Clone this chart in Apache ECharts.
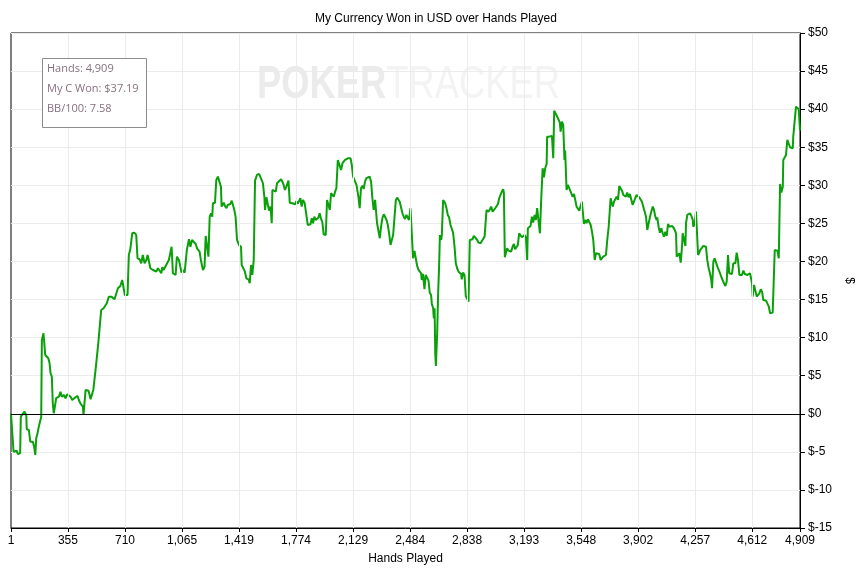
<!DOCTYPE html>
<html>
<head>
<meta charset="utf-8">
<script src="https://cdn.jsdelivr.net/npm/echarts@6/dist/echarts.min.js"></script>
<style>
html,body{margin:0;padding:0;background:#fff;}
#c{width:863px;height:568px;}
</style>
</head>
<body>
<div id="c"></div>
<script>
var titleText = 'My Currency Won in USD over Hands Played';
var xAxisName = 'Hands Played';
var yAxisName = '$';
var xTickHands = [1,355,710,1065,1419,1774,2129,2484,2838,3193,3548,3902,4257,4612,4909];
var infoLines = ['Hands: 4,909','My C Won: $37.19','BB/100: 7.58'];

var hands = [1,12,17,23,29,37,43,50,58,62,74,85,91,96,99,112,121,129,137,145,152,158,166,174,183,189,193,199,203,210,214,224,233,241,247,255,261,267,274,282,292,299,309,317,323,330,340,351,361,371,382,390,402,415,423,432,440,448,452,459,465,473,483,490,496,506,513,523,527,538,544,556,562,577,589,597,610,625,635,645,656,666,681,693,701,709,726,734,743,755,768,780,788,801,811,821,832,843,851,859,868,
884,894,905,915,925,936,942,950,963,971,983,992,1000,1008,1017,1025,1033,1046,1054,1062,1070,1081,1087,1095,1108,1117,1127,1139,1150,1158,1166,1174,1182,1195,1205,1212,1220,1229,1237,1245,1253,1257,1270,1278,1288,1299,1307,1311,1324,1332,1341,1349,1357,1366,1374,1382,1390,1398,1407,1419,1432,1436,1448,1456,1465,1478,1486,1494,1502,1511,1519,1531,1544,1552,1560,1568,1577,1581,1590,1598,1606,1615,1623,1627,1639,1648,1656,1668,1681,1689,1697,1705,1714,1727,1735,
1739,1751,1760,1768,1776,1785,1793,1801,1809,1817,1828,1839,1847,1855,1864,1872,1880,1888,1896,1905,1913,1921,1930,1938,1946,1959,1967,1976,1984,1992,2000,2009,2017,2025,2034,2046,2054,2063,2071,2079,2088,2096,2104,2113,2121,2129,2141,2150,2162,2170,2178,2187,2195,2203,2212,2220,2232,2241,2249,2257,2266,2270,2278,2287,2295,2303,2312,2320,2328,2337,2345,2353,2362,2370,2378,2387,2395,2403,2411,2419,2428,2436,2444,2452,2461,2469,2477,2486,2494,2502,2511,2519,2527,2536,2544,2552,
2556,2564,2573,2581,2589,2598,2606,2614,2619,2627,2631,2636,2640,2644,2652,2658,2664,2669,2677,2681,2689,2694,2702,2710,2718,2726,2735,2743,2751,2760,2768,2776,2785,2793,2801,2805,2813,2822,2830,2838,2847,2855,2863,2872,2880,2888,2901,2909,2922,2934,2947,2955,2959,2972,2980,2988,2997,3005,3013,3021,3030,3038,3046,3054,3063,3067,3073,3079,3087,3096,3104,3112,3121,3129,3137,3146,3154,3162,3171,3179,3187,3196,3204,3212,3216,3224,3233,3241,3249,3258,3266,3274,3283,3291,3299,3308,3316,3324,3333,3336,3349,3357,3366,3374,3380,3391,3399,3407,3415,3420,3428,3436,3444,3448,3457,3465,3473,
3486,3494,3503,3511,3519,3527,3536,3544,3552,3560,3565,3573,3581,3590,3598,3607,3615,3623,3632,3640,3648,3660,3669,3677,3685,3694,3702,3710,3719,3727,3731,3739,3744,3752,3760,3768,3777,3785,3793,3802,3810,3818,3826,3834,3843,3851,3859,3868,3876,3884,3893,3901,3909,3918,3926,3934,3943,3951,3959,3968,3976,3984,3993,4001,4009,4017,4021,4030,4038,4046,4055,4063,4071,4080,4088,4096,
4113,4125,4133,4138,4142,4150,4158,4167,4175,4179,4188,4196,4200,4208,4217,4225,4233,4242,4245,4254,4262,4266,4275,4283,4291,4299,4308,4316,4324,4332,4341,4349,4357,4362,4370,4378,4387,4395,4403,4412,4420,4428,4436,4445,4453,4461,4469,4478,4486,4494,4507,4515,4523,4532,4540,4548,4557,4565,4573,4582,4590,4598,4606,4611,4615,4623,4631,4640,4648,4656,4665,4673,4681,4690,4698,4706,4715,4723,4731,4739,4748,4752,4760,4768,4777,4785,4793,4802,4805,4814,4822,4830,4839,4847,4855,4864,4867,4876,4884,4892,4901,4909];

var won = [0,-0.16,-4.98,-4.75,-4.98,-4.85,-5.28,-5.45,-5.19,-0.38,-0.16,0.28,0.41,-0.16,-2.04,-2.13,-3.66,-3.87,-3.66,-4.32,-5.41,-3.22,-2.56,-1.69,-1.83,-0.38,9.69,9.91,10.57,10.65,7.72,7.59,7.29,6.63,5.32,4.87,1.38,0.07,0.93,2.04,1.81,2.25,2.90,2.25,2.04,2.47,2.04,2.56,2.34,2.25,1.81,1.81,2.17,2.34,1.81,1.38,1.16,0.93,-0.16,0.07,3.13,3.35,3.03,2.47,1.90,1.81,3.13,3.03,5.75,5.98,9.26,9.47,13.63,13.85,13.72,14.51,15.38,15.38,15.17,15.04,14.94,16.48,16.78,17.57,17.44,15.60,15.60,20.85,21.60,23.70,23.78,23.48,20.42,20.29,19.76,20.85,19.76,20.20,20.85,20.72,19.11,
18.88,19.11,18.66,19.11,18.88,18.45,19.24,18.88,19.41,19.67,20.20,20.42,21.94,18.45,18.66,18.23,20.63,20.20,19.32,18.53,18.88,18.53,18.53,21.51,22.92,21.94,22.82,22.92,22.30,21.73,21.86,21.29,20.20,18.88,19.32,23.35,23.35,20.63,25.88,26.33,25.88,27.64,27.72,30.70,31.14,31.06,29.82,27.20,27.72,27.29,26.99,27.42,27.20,27.55,27.98,27.42,26.76,25.88,22.82,22.17,21.94,19.54,19.32,18.66,17.79,17.66,17.14,19.54,18.23,20.20,30.61,31.36,31.49,31.23,30.70,30.27,28.51,26.76,28.43,28.17,26.67,27.20,25.02,29.39,29.48,29.17,30.27,30.48,30.79,30.48,30.05,29.39,29.82,30.61,27.72,
27.85,27.64,27.85,27.51,27.94,27.59,27.85,28.30,27.20,28.08,27.64,27.85,24.79,25.02,24.89,25.67,25.02,25.88,25.45,25.23,25.75,26.33,25.58,25.15,23.57,23.48,28.08,27.42,26.76,28.96,29.17,28.51,29.17,29.61,33.33,33.11,32.02,32.90,33.11,33.33,33.20,33.55,33.76,33.55,32.67,31.14,30.93,30.05,28.51,26.99,29.61,29.95,29.52,30.48,30.93,31.14,31.14,30.48,28.30,26.76,28.08,28.30,25.02,24.79,23.05,24.57,25.75,26.20,26.11,25.45,24.79,23.70,22.17,22.82,23.48,23.39,28.08,28.38,28.21,27.85,27.77,26.33,25.88,25.58,26.11,26.33,25.45,26.99,26.76,20.42,21.38,21.29,19.45,18.88,18.75,18.45,
17.57,18.36,16.35,18.23,18.00,17.48,15.90,15.60,14.42,13.85,12.54,13.85,7.94,6.28,10.57,15.82,19.32,23.48,22.82,23.48,28.08,28.30,27.64,26.99,26.11,25.80,24.79,24.92,23.78,21.94,19.76,19.11,18.66,18.79,18.36,17.66,18.53,18.23,15.47,15.60,14.72,22.82,22.73,22.92,23.35,23.18,22.82,22.47,22.39,22.82,23.26,23.48,26.76,26.54,26.86,27.20,26.54,26.41,26.99,27.12,27.55,28.30,28.43,29.17,29.48,28.96,20.55,20.42,21.73,21.42,21.16,21.29,21.94,22.30,21.60,21.51,22.17,23.70,23.78,23.18,23.26,23.48,23.18,20.20,24.36,24.23,24.66,25.88,25.10,26.11,25.45,26.99,27.20,23.70,28.08,32.24,31.06,32.24,32.80,36.39,36.39,36.18,36.48,33.55,39.80,39.54,39.02,39.11,38.23,37.05,38.36,37.93,33.33,34.55,29.39,30.05,29.82,
28.96,28.51,28.86,28.08,27.20,26.99,26.67,27.29,27.85,27.64,24.92,25.45,25.02,25.54,25.45,24.79,23.91,22.82,20.20,21.08,21.16,20.99,20.20,20.11,20.63,20.72,20.85,22.82,24.57,24.66,28.30,28.08,27.20,27.85,27.64,28.51,28.08,29.91,30.05,29.30,28.73,28.96,28.51,29.04,28.43,28.86,28.73,27.42,27.64,28.30,28.73,28.60,28.43,28.17,27.85,27.20,26.54,25.88,24.14,23.91,25.88,26.54,27.20,26.76,25.88,25.45,25.80,24.49,23.78,24.36,23.70,23.26,23.91,23.35,24.92,24.57,
24.66,24.36,24.49,23.70,20.63,20.72,21.08,19.84,21.94,23.70,23.70,22.04,25.02,26.11,25.88,26.33,25.98,25.45,24.57,24.92,26.54,26.33,20.85,21.08,21.60,21.73,22.04,22.17,21.94,20.20,19.11,18.45,17.57,16.48,19.97,20.42,20.20,19.32,19.11,18.45,17.93,17.79,17.14,16.78,17.35,20.85,18.45,18.23,18.36,19.76,19.76,21.16,20.20,18.23,18.45,18.23,18.79,18.36,18.53,18.23,18.45,18.45,18.36,17.14,15.38,16.91,16.78,15.38,15.17,15.82,16.35,16.03,14.94,14.72,14.85,14.72,14.06,13.20,13.41,13.28,13.20,21.51,21.51,21.42,20.42,30.18,29.04,29.82,33.33,33.42,33.99,35.96,35.73,35.00,35.08,34.87,36.39,36.61,40.33,40.25,39.99,37.19];

var seriesData = hands.map(function (h, i) { return [h, won[i]]; });
var vGrid = xTickHands.slice(1, -1).map(function (h) { return {xAxis: h}; });

var labelFont = 'Liberation Sans, Arial, sans-serif';
var chart = echarts.init(document.getElementById('c'), null, {renderer: 'canvas'});
chart.setOption({
  animation: false,
  backgroundColor: '#ffffff',
  title: {
    text: titleText,
    left: 310,
    top: 8,
    textStyle: {fontFamily: labelFont, fontSize: 12, fontWeight: 'normal', color: '#000'}
  },
  graphic: [
    {
      type: 'text', left: 257, top: 62, z: 0, silent: true, scaleX: 0.79,
      style: {
        text: '{b|POKER}{r|TRACKER}',
        rich: {
          b: {fontFamily: labelFont, fontSize: 46, fontWeight: 'bold', fill: '#ebebeb'},
          r: {fontFamily: labelFont, fontSize: 46, fontWeight: 'normal', fill: '#f3f3f3'}
        }
      }
    },
    {
      type: 'rect', z: 100, silent: true,
      shape: {x: 42.5, y: 58.5, width: 104, height: 69},
      style: {fill: '#ffffff', stroke: '#8c8c8c', lineWidth: 1}
    },
    {type: 'text', z: 101, left: 47, top: 63, style: {text: infoLines[0], fontFamily: 'Open Sans, sans-serif', fontSize: 11, fill: '#86707e'}},
    {type: 'text', z: 101, left: 47, top: 83, style: {text: infoLines[1], fontFamily: 'Open Sans, sans-serif', fontSize: 11, fill: '#86707e'}},
    {type: 'text', z: 101, left: 47, top: 103, style: {text: infoLines[2], fontFamily: 'Open Sans, sans-serif', fontSize: 11, fill: '#86707e'}}
  ],
  grid: {
    left: 11, right: 63, top: 33, bottom: 40,
    show: true, borderColor: '#000', borderWidth: 1, backgroundColor: 'transparent',
    containLabel: false,
    outerBoundsMode: 'none'
  },
  xAxis: {
    type: 'value',
    min: 1, max: 4909,
    name: xAxisName,
    nameLocation: 'middle',
    nameGap: 25,
    nameTextStyle: {fontFamily: labelFont, fontSize: 12, color: '#000'},
    axisLine: {show: true, onZero: false, lineStyle: {color: '#000', width: 1}},
    axisTick: {show: true, length: 4, lineStyle: {color: '#000'}, customValues: xTickHands},
    axisLabel: {
      customValues: xTickHands,
      margin: 7,
      fontFamily: labelFont, fontSize: 12, color: '#000',
      formatter: function (v) { return Math.round(v).toLocaleString('en-US'); }
    },
    splitLine: {show: false}
  },
  yAxis: {
    type: 'value',
    position: 'right',
    min: -15, max: 50, interval: 5,
    name: yAxisName,
    nameLocation: 'middle',
    nameGap: 42,
    nameRotate: -90,
    nameTextStyle: {fontFamily: labelFont, fontSize: 12, color: '#000'},
    axisLine: {show: true, lineStyle: {color: '#000', width: 1}},
    axisTick: {show: true, length: 5, lineStyle: {color: '#000'}},
    axisLabel: {
      margin: 8,
      fontFamily: labelFont, fontSize: 12, color: '#000',
      formatter: function (v) { return '$' + v; }
    },
    splitLine: {show: true, lineStyle: {color: '#ebebeb', width: 1}}
  },
  series: [
    {
      type: 'line',
      data: [],
      silent: true,
      z: 1,
      markLine: {
        silent: true,
        animation: false,
        symbol: ['none', 'none'],
        label: {show: false},
        lineStyle: {color: '#ebebeb', width: 1, type: 'solid'},
        data: vGrid
      }
    },
    {
      type: 'line',
      data: seriesData,
      showSymbol: false,
      symbol: 'none',
      z: 3,
      lineStyle: {color: '#0aa00a', width: 2},
      markLine: {
        silent: true,
        animation: false,
        symbol: ['none', 'none'],
        label: {show: false},
        lineStyle: {color: '#000', width: 1, type: 'solid'},
        data: [{yAxis: 0}]
      }
    }
  ]
});
</script>
</body>
</html>
